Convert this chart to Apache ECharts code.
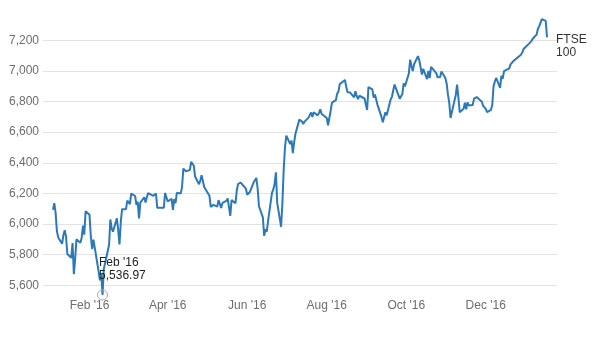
<!DOCTYPE html>
<html>
<head>
<meta charset="utf-8">
<script src="https://cdn.jsdelivr.net/npm/echarts@6/dist/echarts.min.js"></script>
<style>
html, body { margin: 0; padding: 0; background: #fff; }
#chart { width: 605px; height: 353px; }
</style>
</head>
<body>
<div id="chart"></div>
<script>
// FTSE 100 daily close, Jan 2016 - Jan 2017
var dates = [
	'2016-01-04','2016-01-05','2016-01-06','2016-01-07','2016-01-08','2016-01-11','2016-01-12','2016-01-13','2016-01-14','2016-01-15',
	'2016-01-18','2016-01-19','2016-01-20','2016-01-21','2016-01-22','2016-01-25','2016-01-26','2016-01-27','2016-01-28','2016-01-29',
	'2016-02-01','2016-02-02','2016-02-03','2016-02-04','2016-02-05','2016-02-08','2016-02-09','2016-02-10','2016-02-11','2016-02-12',
	'2016-02-15','2016-02-16','2016-02-17','2016-02-18','2016-02-19','2016-02-22','2016-02-23','2016-02-24','2016-02-25','2016-02-26',
	'2016-02-29','2016-03-01','2016-03-02','2016-03-03','2016-03-04','2016-03-07','2016-03-08','2016-03-09','2016-03-10','2016-03-11',
	'2016-03-14','2016-03-15','2016-03-16','2016-03-17','2016-03-18','2016-03-21','2016-03-22','2016-03-23','2016-03-24','2016-03-29',
	'2016-03-30','2016-03-31','2016-04-01','2016-04-04','2016-04-05','2016-04-06','2016-04-07','2016-04-08','2016-04-11','2016-04-12',
	'2016-04-13','2016-04-14','2016-04-15','2016-04-18','2016-04-19','2016-04-20','2016-04-21','2016-04-22','2016-04-25','2016-04-26',
	'2016-04-27','2016-04-28','2016-04-29','2016-05-03','2016-05-04','2016-05-05','2016-05-06','2016-05-09','2016-05-10','2016-05-11',
	'2016-05-12','2016-05-13','2016-05-16','2016-05-17','2016-05-18','2016-05-19','2016-05-20','2016-05-23','2016-05-24','2016-05-25',
	'2016-05-26','2016-05-27','2016-05-31','2016-06-01','2016-06-02','2016-06-03','2016-06-06','2016-06-07','2016-06-08','2016-06-09',
	'2016-06-10','2016-06-13','2016-06-14','2016-06-15','2016-06-16','2016-06-17','2016-06-20','2016-06-21','2016-06-22','2016-06-23',
	'2016-06-24','2016-06-27','2016-06-28','2016-06-29','2016-06-30','2016-07-01','2016-07-04','2016-07-05','2016-07-06','2016-07-07',
	'2016-07-08','2016-07-11','2016-07-12','2016-07-13','2016-07-14','2016-07-15','2016-07-18','2016-07-19','2016-07-20','2016-07-21',
	'2016-07-22','2016-07-25','2016-07-26','2016-07-27','2016-07-28','2016-07-29','2016-08-01','2016-08-02','2016-08-03','2016-08-04',
	'2016-08-05','2016-08-08','2016-08-09','2016-08-10','2016-08-11','2016-08-12','2016-08-15','2016-08-16','2016-08-17','2016-08-18',
	'2016-08-19','2016-08-22','2016-08-23','2016-08-24','2016-08-25','2016-08-26','2016-08-30','2016-08-31','2016-09-01','2016-09-02',
	'2016-09-05','2016-09-06','2016-09-07','2016-09-08','2016-09-09','2016-09-12','2016-09-13','2016-09-14','2016-09-15','2016-09-16',
	'2016-09-19','2016-09-20','2016-09-21','2016-09-22','2016-09-23','2016-09-26','2016-09-27','2016-09-28','2016-09-29','2016-09-30',
	'2016-10-03','2016-10-04','2016-10-05','2016-10-06','2016-10-07','2016-10-10','2016-10-11','2016-10-12','2016-10-13','2016-10-14',
	'2016-10-17','2016-10-18','2016-10-19','2016-10-20','2016-10-21','2016-10-24','2016-10-25','2016-10-26','2016-10-27','2016-10-28',
	'2016-10-31','2016-11-01','2016-11-02','2016-11-03','2016-11-04','2016-11-07','2016-11-08','2016-11-09','2016-11-10','2016-11-11',
	'2016-11-14','2016-11-15','2016-11-16','2016-11-17','2016-11-18','2016-11-21','2016-11-22','2016-11-23','2016-11-24','2016-11-25',
	'2016-11-28','2016-11-29','2016-11-30','2016-12-01','2016-12-02','2016-12-05','2016-12-06','2016-12-07','2016-12-08','2016-12-09',
	'2016-12-12','2016-12-13','2016-12-14','2016-12-15','2016-12-16','2016-12-19','2016-12-20','2016-12-21','2016-12-22','2016-12-23',
	'2016-12-28','2016-12-29','2016-12-30','2017-01-03','2017-01-04','2017-01-05','2017-01-06','2017-01-09','2017-01-10','2017-01-11',
	'2017-01-12','2017-01-13','2017-01-16','2017-01-17'
];
var closes = [
	6093, 6137, 6073, 5954, 5912, 5871, 5929, 5960, 5918, 5804,
	5779, 5876, 5673, 5773, 5900, 5877, 5911, 5990, 5931, 6083,
	6060, 5922, 5837, 5898, 5848, 5689, 5632, 5672, 5536.97, 5707,
	5824, 5863, 6030, 5972, 5950, 6037, 5962, 5867, 6012, 6097,
	6097, 6153, 6147, 6130, 6199, 6183, 6126, 6146, 6037, 6140,
	6175, 6140, 6175, 6202, 6190, 6184, 6193, 6199, 6106, 6106,
	6203, 6175, 6147, 6165, 6092, 6162, 6137, 6204, 6200, 6242,
	6362, 6366, 6344, 6354, 6406, 6410, 6381, 6310, 6260, 6284,
	6319, 6322, 6242, 6185, 6112, 6117, 6125, 6114, 6156, 6162,
	6105, 6138, 6151, 6167, 6165, 6053, 6156, 6136, 6219, 6262,
	6265, 6270, 6231, 6191, 6185, 6209, 6273, 6285, 6301, 6231,
	6116, 6044, 5923, 5966, 5950, 6021, 6204, 6226, 6261, 6338,
	6138, 5982, 6140, 6360, 6504, 6577, 6522, 6545, 6463, 6533,
	6590, 6682, 6680, 6670, 6654, 6669, 6695, 6697, 6728, 6699,
	6730, 6710, 6724, 6750, 6721, 6724, 6693, 6645, 6634, 6740,
	6793, 6809, 6851, 6866, 6914, 6916, 6941, 6893, 6860, 6869,
	6859, 6828, 6868, 6835, 6816, 6838, 6820, 6781, 6745, 6894,
	6879, 6826, 6846, 6858, 6777, 6700, 6665, 6673, 6730, 6710,
	6813, 6831, 6834, 6911, 6910, 6819, 6807, 6849, 6919, 6899,
	6983, 7074, 7033, 6999, 7044, 7097, 7070, 7024, 6977, 7013,
	6947, 7000, 6953, 7026, 7020, 6986, 6958, 6958, 6961, 6996,
	6954, 6917, 6845, 6791, 6693, 6806, 6843, 6911, 6827, 6730,
	6753, 6792, 6749, 6794, 6775, 6778, 6819, 6817, 6829, 6840,
	6799, 6772, 6784, 6752, 6731, 6746, 6779, 6902, 6931, 6954,
	6890, 6969, 6949, 6999, 7011, 7017, 7043, 7041, 7063, 7068,
	7106, 7120, 7143, 7177, 7190, 7195, 7210, 7237, 7275, 7291,
	7292, 7338, 7327, 7220
];
var tickDates = ['2016-02-01','2016-04-01','2016-06-01','2016-08-01','2016-10-01','2016-12-01'];
var tickLabels = ["Feb '16", "Apr '16", "Jun '16", "Aug '16", "Oct '16", "Dec '16"];
var seriesName = 'FTSE 100';
var lowDate = '2016-02-11';
var lowLabel = "Feb '16";

function dayTime(s) {
	var p = s.split('-');
	return new Date(+p[0], +p[1] - 1, +p[2]).getTime();
}
function fmt(v, dec) {
	return v.toLocaleString('en-US', {minimumFractionDigits: dec, maximumFractionDigits: dec});
}

var points = [];
for (var i = 0; i < dates.length; i++) {
	points.push([dayTime(dates[i]), closes[i]]);
}
var tickTimes = tickDates.map(dayTime);
var lowIdx = dates.indexOf(lowDate);
var DAY = 86400000;
var xMin = dayTime('2016-02-01') - 35.67 * DAY;
var xMax = dayTime('2016-02-01') + 358.65 * DAY;

var font = 'Liberation Sans, Arial, sans-serif';
var myChart = echarts.init(document.getElementById('chart'), null, {renderer: 'canvas'});
var option = {
	animation: false,
	textStyle: {fontFamily: font},
	grid: {left: 43, right: 48, top: 9.7, bottom: 37.1, containLabel: false},
	xAxis: {
		type: 'value',
		min: xMin,
		max: xMax,
		axisLine: {show: false},
		axisTick: {show: false},
		splitLine: {show: false},
		axisLabel: {
			customValues: tickTimes,
			margin: -16,
			color: '#6d6d6d',
			fontSize: 12,
			fontFamily: font,
			formatter: function (v) {
				var k = tickTimes.indexOf(v);
				return k >= 0 ? tickLabels[k] : '';
			}
		}
	},
	yAxis: {
		type: 'value',
		min: 5400,
		max: 7400,
		interval: 200,
		axisLine: {show: false},
		axisTick: {show: false},
		splitLine: {show: true, showMinLine: false, showMaxLine: false, lineStyle: {color: '#e3e3e3', width: 1}},
		axisLabel: {
			showMinLabel: false,
			showMaxLabel: false,
			margin: 4,
			color: '#6d6d6d',
			fontSize: 12,
			fontFamily: font,
			formatter: function (v) { return fmt(v, 0); }
		}
	},
	series: [{
		name: seriesName,
		type: 'line',
		data: points,
		showSymbol: false,
		symbol: 'none',
		lineStyle: {color: '#2b79b9', width: 2},
		endLabel: {
			show: true,
			formatter: 'FTSE\n100',
			color: '#333',
			fontSize: 12,
			lineHeight: 13,
			fontFamily: font,
			distance: 9,
			offset: [0, 9]
		},
		markPoint: {
			silent: true,
			symbol: 'circle',
			symbolSize: 10,
			itemStyle: {color: 'rgba(255,255,255,0)', borderColor: '#a8a8a8', borderWidth: 1},
			label: {
				show: true,
				position: [2, -33],
				align: 'left',
				verticalAlign: 'top',
				color: '#222',
				fontSize: 12,
				lineHeight: 13,
				fontFamily: font,
				formatter: function () {
					return lowLabel + '\n' + fmt(closes[lowIdx], 2);
				}
			},
			data: [{coord: [points[lowIdx][0], closes[lowIdx]]}]
		}
	}]
};
myChart.setOption(option);
</script>
</body>
</html>
